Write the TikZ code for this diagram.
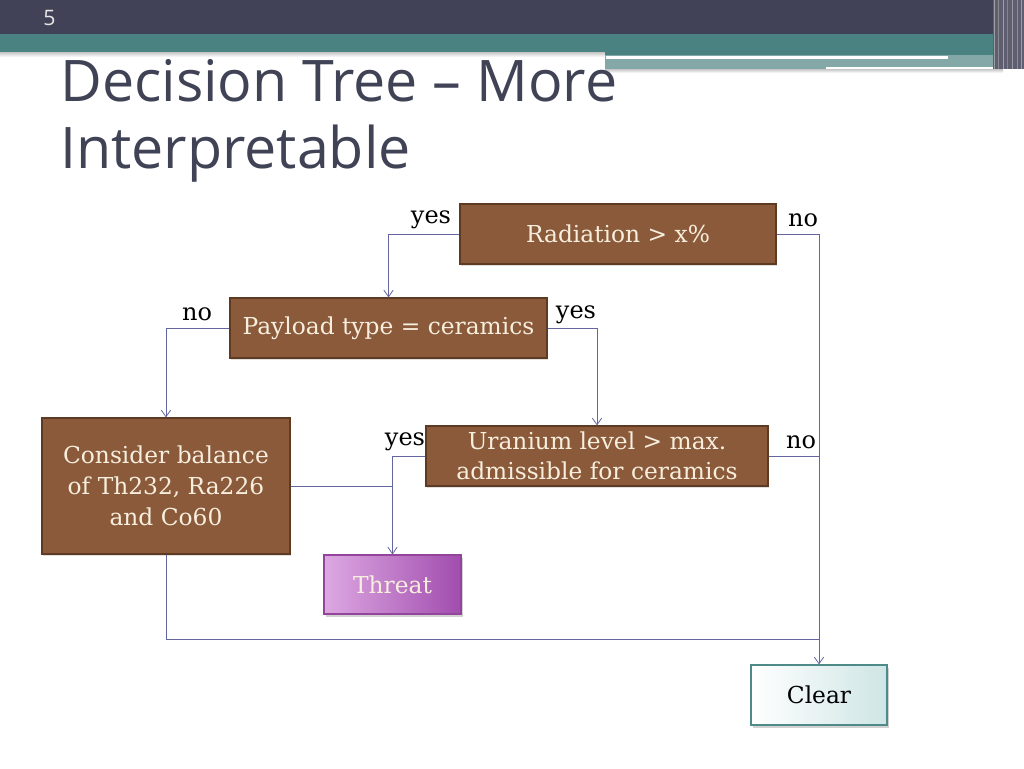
\documentclass[tikz,border=0pt]{standalone}
\usepackage{fontspec}
\setmainfont{DejaVu Serif}
\newfontfamily\titlefont{Open Sans}
\usetikzlibrary{shadows,arrows.meta}
\definecolor{hdark}{HTML}{414257}
\definecolor{hteal}{HTML}{4A8282}
\definecolor{hlight}{HTML}{84A8A8}
\definecolor{titlec}{HTML}{404255}
\definecolor{brownf}{HTML}{8A5A3B}
\definecolor{brownd}{HTML}{5E3A22}
\definecolor{cream}{HTML}{F7EEDD}
\definecolor{connc}{HTML}{6466A2}
\definecolor{purpL}{HTML}{DDA8E2}
\definecolor{purpR}{HTML}{A14DAE}
\definecolor{purpD}{HTML}{93459C}
\definecolor{clearL}{HTML}{FFFFFF}
\definecolor{clearR}{HTML}{CFE5E5}
\definecolor{clearD}{HTML}{4E8B88}
\tikzset{
  box/.style={draw=brownd, line width=0.8pt, fill=brownf, text=cream, align=center, inner sep=0pt,
    font=\fontsize{17.5}{23.3}\selectfont,
    drop shadow={opacity=0.25, shadow xshift=1pt, shadow yshift=-1.5pt}},
  leaf/.style={line width=0.8pt, align=center, inner sep=0pt, font=\fontsize{17.5}{23}\selectfont,
    drop shadow={opacity=0.35, shadow xshift=1.2pt, shadow yshift=-2pt}},
  conn/.style={draw=connc, line width=0.75pt},
  arr/.style={conn, -{Straight Barb[length=5pt, width=7pt, line width=0.6pt]}},
  lbl/.style={font=\fontsize{18}{20}\selectfont, text=black, inner sep=0pt}
}
\begin{document}
\begin{tikzpicture}[x=0.75pt,y=-0.75pt]
\useasboundingbox (0,0) rectangle (1024,768);
\fill[white] (0,0) rectangle (1024,768);
% header
\fill[hdark] (0,0) rectangle (1024,34);
\shade[top color=gray!55, bottom color=white] (0,51) rectangle (605,57);
\fill[hteal] (0,34) rectangle (1000,52);
\fill[hlight] (605,52) rectangle (1003,69);
\fill[hteal] (605,52) rectangle (1000,55);
\fill[white] (606,56) rectangle (948,58.5);
\fill[white] (826,66.5) rectangle (1003,69);
\shade[top color=gray!45, bottom color=white] (605,69) rectangle (1003,73);
\fill[hdark!85!white] (993,0) rectangle (1024,69);
\foreach \xx/\cc in {994/gray!45,998/gray!70,1003/gray!40,1007/gray!75,1012/gray!50,1017/gray!65,1021/gray!45}{
  \fill[\cc, opacity=0.6] (\xx,0) rectangle (\xx+1.2,69);}
\node[anchor=west, text=gray!20, font=\titlefont\fontsize{16}{18}\selectfont, inner sep=0pt] (pnum) at (43,18) {5};
\node[anchor=base west, text=titlec, font=\titlefont\fontsize{43}{50}\selectfont, inner sep=0pt] (t1) at (60,101) {Decision Tree – More};
\node[anchor=base west, text=titlec, font=\titlefont\fontsize{43}{50}\selectfont, inner sep=0pt] (t2) at (60,168) {Interpretable};
% nodes
\node[box, minimum width=237pt, minimum height=45pt] (rad) at (618,234) {Radiation > x\%};
\node[box, minimum width=237.75pt, minimum height=45pt] (pay) at (388.5,328) {Payload type = ceramics};
\node[box, minimum width=186pt, minimum height=102pt] (cons) at (166,486) {Consider balance\\of Th232, Ra226\\and Co60};
\node[box, minimum width=256.5pt, minimum height=45pt, font=\fontsize{17.5}{22.5}\selectfont] (ura) at (597,456) {Uranium level > max.\\admissible for ceramics};
\node[leaf, draw=purpD, left color=purpL, right color=purpR, text=cream, minimum width=102.75pt, minimum height=44.25pt] (thr) at (392.5,584.5) {Threat};
\node[leaf, draw=clearD, left color=clearL, right color=clearR, text=black, minimum width=102pt, minimum height=45pt] (clr) at (819,695) {Clear};
% connectors
\coordinate (j) at (819,639);
\draw[arr] (rad.west) -| (pay.north);
\draw[arr] (rad.east) -| (clr.north);
\draw[arr] (pay.west) -| (cons.north);
\draw[arr] (pay.east) -| (ura.north);
\draw[arr] (ura.west) -| (thr.north);
\draw[conn] (cons.east) -- (cons.east -| thr.north);
\draw[conn] (ura.east) -- (ura.east -| clr.north);
\draw[conn] (cons.south) |- (j);
% labels
\node[lbl] (l1) at (431,220) {yes};
\node[lbl] (l2) at (803,220) {no};
\node[lbl] (l3) at (197,314) {no};
\node[lbl] (l4) at (576,315) {yes};
\node[lbl] (l5) at (405,442) {yes};
\node[lbl] (l6) at (801,442) {no};
\end{tikzpicture}
\end{document}
